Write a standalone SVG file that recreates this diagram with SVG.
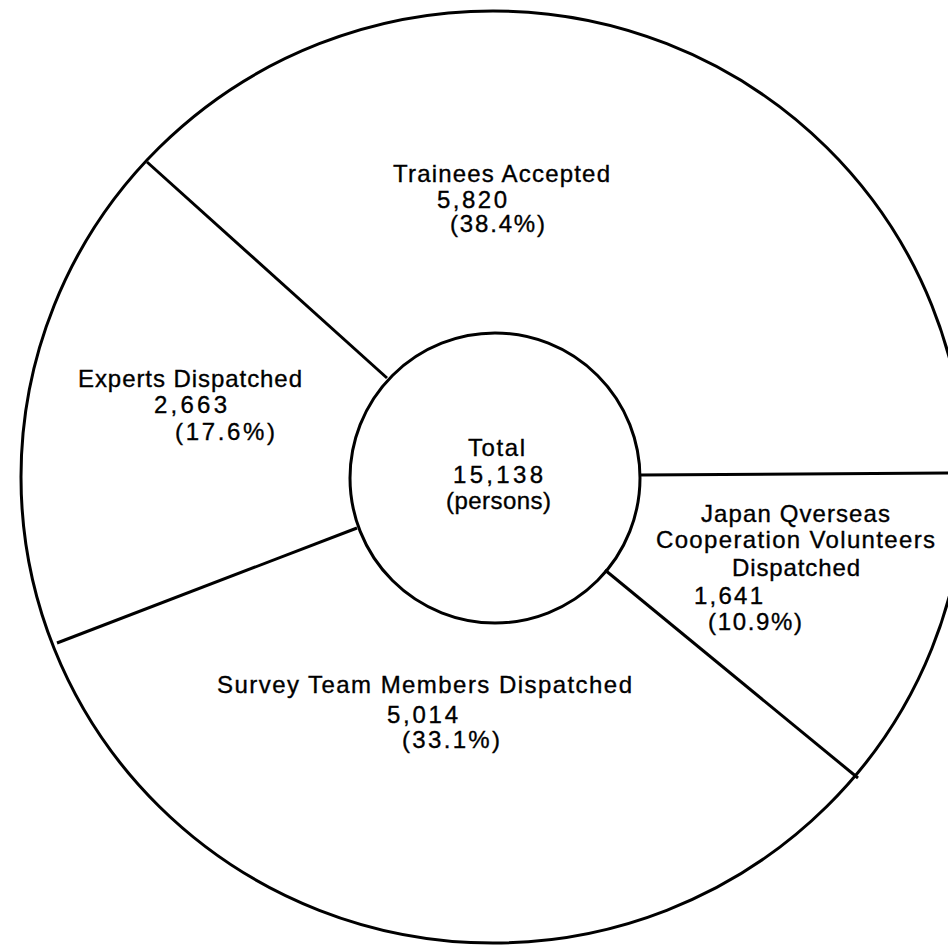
<svg xmlns="http://www.w3.org/2000/svg" width="948" height="945" viewBox="0 0 948 945">
  <style>
    .ring { fill: none; stroke: #000; stroke-width: 3; }
    .div { stroke: #000; stroke-width: 3; stroke-linecap: butt; fill: none; }
    .lbl { font-family: "Liberation Sans", Arial, Helvetica, sans-serif; font-size: 24px; fill: #000; stroke: #000; stroke-width: 0.35; }
  </style>
  <rect x="0" y="0" width="948" height="945" fill="#fff"/>

  <g id="outer-ring">
    <ellipse class="ring" cx="493" cy="477" rx="472" ry="466"/>
  </g>

  <g id="connectors">
    <line class="div" x1="147" y1="162" x2="387" y2="378"/>
    <line class="div" x1="640" y1="475" x2="948" y2="473"/>
    <line class="div" x1="605" y1="570" x2="858" y2="778"/>
    <line class="div" x1="357" y1="528" x2="57" y2="643"/>
  </g>

  <g id="total">
    <circle class="ring" cx="495" cy="478" r="145" fill="#fff"/>
    <text class="lbl" x="468" y="456" textLength="57" lengthAdjust="spacing">Total</text>
    <text class="lbl" x="453" y="483" textLength="90" lengthAdjust="spacing">15,138</text>
    <text class="lbl" x="446" y="509" textLength="105" lengthAdjust="spacing">(persons)</text>
  </g>

  <g id="trainees">
    <text class="lbl" x="393" y="182" textLength="217" lengthAdjust="spacing">Trainees Accepted</text>
    <text class="lbl" x="437" y="208" textLength="70" lengthAdjust="spacing">5,820</text>
    <text class="lbl" x="450" y="232" textLength="95" lengthAdjust="spacing">(38.4%)</text>
  </g>

  <g id="experts">
    <text class="lbl" x="78" y="387" textLength="224" lengthAdjust="spacing">Experts Dispatched</text>
    <text class="lbl" x="154" y="413" textLength="73" lengthAdjust="spacing">2,663</text>
    <text class="lbl" x="175" y="440" textLength="100" lengthAdjust="spacing">(17.6%)</text>
  </g>

  <g id="volunteers">
    <text class="lbl" x="701" y="522" textLength="189" lengthAdjust="spacing">Japan Qverseas</text>
    <text class="lbl" x="656" y="548" textLength="279" lengthAdjust="spacing">Cooperation Volunteers</text>
    <text class="lbl" x="732" y="576" textLength="128" lengthAdjust="spacing">Dispatched</text>
    <text class="lbl" x="694" y="604" textLength="69" lengthAdjust="spacing">1,641</text>
    <text class="lbl" x="708" y="630" textLength="94" lengthAdjust="spacing">(10.9%)</text>
  </g>

  <g id="survey">
    <text class="lbl" x="217" y="693" textLength="415" lengthAdjust="spacing">Survey Team Members Dispatched</text>
    <text class="lbl" x="387" y="723" textLength="71" lengthAdjust="spacing">5,014</text>
    <text class="lbl" x="402" y="748" textLength="98" lengthAdjust="spacing">(33.1%)</text>
  </g>
</svg>
